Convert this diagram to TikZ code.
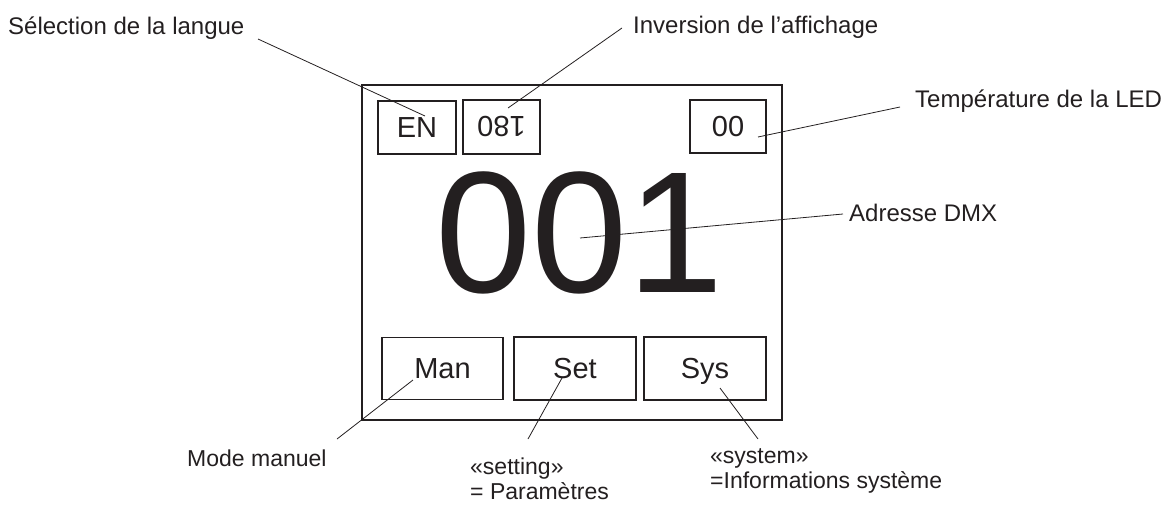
\documentclass[tikz,border=0pt]{standalone}
\usepackage{fontspec}
\setmainfont{Liberation Sans}
\definecolor{ink}{HTML}{231F20}
\begin{document}
\begin{tikzpicture}[x=1pt,y=-1pt,
  every node/.style={text=ink},
  frame/.style={draw=ink,line width=1.8pt,inner sep=0pt},
  keybox/.style={draw=ink,line width=1.5pt,inner sep=0pt,text height=20.8pt,text depth=0pt,font=\fontsize{29}{32}\selectfont},
  toplabel/.style={inner sep=0pt,anchor=base west,font=\fontsize{24}{26}\selectfont},
  botlabel/.style={inner sep=0pt,anchor=base west,align=left,font=\fontsize{23}{25}\selectfont},
  leader/.style={draw=ink,line width=0.8pt}]
\useasboundingbox (0,0) rectangle (1165,504);
% display frame
\node[frame,minimum width=420pt,minimum height=335pt] (display) at (572,252.5) {};
% top boxes
\node[keybox,minimum width=78pt,minimum height=53pt] (en) at (417,127.5) {EN};
\node[keybox,minimum width=77pt,minimum height=54pt,rotate=180] (inv) at (501.5,127) {180};
\node[keybox,minimum width=76pt,minimum height=53pt] (temp) at (728,126.5) {00};
% bottom boxes
\node[keybox,minimum width=121pt,minimum height=62pt] (man) at (442.5,368.5) {Man};
\node[keybox,minimum width=122pt,minimum height=63pt] (set) at (575,368.5) {Set};
\node[keybox,minimum width=122pt,minimum height=63pt] (sys) at (705,368.5) {Sys};
% big address
\node[inner sep=0pt,anchor=base west,font=\fontsize{173}{180}\selectfont] (addr) at (435,292) {001};
% labels
\node[toplabel] (lsel) at (8,34) {Sélection de la langue};
\node[toplabel] (linv) at (633,33) {Inversion de l’affichage};
\node[toplabel] (ltemp) at (915,107) {Température de la LED};
\node[toplabel] (ldmx) at (849,221) {Adresse DMX};
\node[botlabel] (lman) at (187,466) {Mode manuel};
\node[botlabel] (lset) at (470,499) {«setting»\\= Paramètres};
\node[botlabel] (lsys) at (710,488) {«system»\\=Informations système};
% leader end points
\coordinate (csel) at (258,39);
\coordinate (cen) at (425,116);
\coordinate (cinvl) at (622,28);
\coordinate (cinv) at (508,108);
\coordinate (ctempl) at (900,107);
\coordinate (ctemp) at (758,137);
\coordinate (cdmxl) at (843,214);
\coordinate (cdmx) at (580,238);
\coordinate (cmanl) at (337,439);
\coordinate (cman) at (413,380);
\coordinate (csetl) at (528,439);
\coordinate (cset) at (562,378);
\coordinate (csysl) at (758,439);
\coordinate (csys) at (720,388);
% leaders
\draw[leader] (csel) -- (cen);
\draw[leader] (cinvl) -- (cinv);
\draw[leader] (ctempl) -- (ctemp);
\draw[leader] (cdmxl) -- (cdmx);
\draw[leader] (cmanl) -- (cman);
\draw[leader] (csetl) -- (cset);
\draw[leader] (csysl) -- (csys);
\end{tikzpicture}
\end{document}
